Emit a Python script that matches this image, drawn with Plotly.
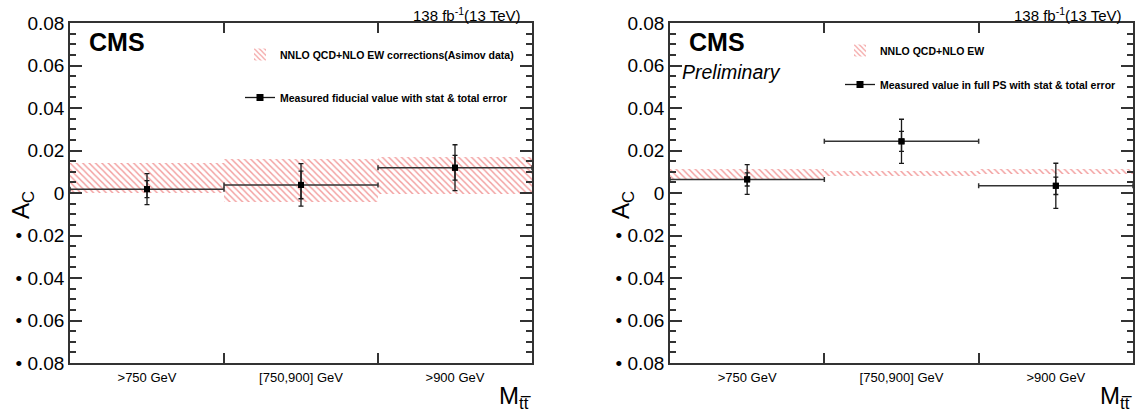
import plotly.graph_objects as go

# ---------------- data ----------------
bin_labels = [">750 GeV", "[750,900] GeV", ">900 GeV"]
bin_centers = [0.5, 1.5, 2.5]
bin_halfwidth = [0.5, 0.5, 0.5]

# left panel (fiducial)
left_band_lo = [0.0, -0.0040, -0.0004]
left_band_hi = [0.0143, 0.0160, 0.0169]
left_meas = [0.0018, 0.0038, 0.0119]
left_tot_err = [0.0073, 0.0100, 0.0108]
left_stat_err = [0.0040, 0.0065, 0.0058]

# right panel (full phase space)
right_band_lo = [0.0064, 0.0081, 0.0091]
right_band_hi = [0.0115, 0.0104, 0.0112]
right_meas = [0.0064, 0.0243, 0.0034]
right_tot_err = [0.0070, 0.0104, 0.0106]
right_stat_err = [0.0031, 0.0047, 0.0041]

y_tickvals = [-0.08, -0.06, -0.04, -0.02, 0, 0.02, 0.04, 0.06, 0.08]
y_ticktext = ["\u2022 0.08", "\u2022 0.06", "\u2022 0.04", "\u2022 0.02", "0", "0.02", "0.04", "0.06", "0.08"]

left_band_name = "NNLO QCD+NLO EW corrections(Asimov data)"
left_meas_name = "Measured fiducial value with stat & total error"
right_band_name = "NNLO QCD+NLO EW"
right_meas_name = "Measured value in full PS with stat & total error"

W, H = 1135, 416
FONT = "Liberation Sans"
PINK = "#f29b9b"
INK = "#1a1a1a"


def px(x):
    return x / W


def py(y):
    return 1 - y / H


fig = go.Figure()


def add_panel(xa, ya, lo, hi, meas, tot, stat, band_name, meas_name, legend):
    fig.add_trace(go.Bar(
        x=bin_centers, y=[h - l for h, l in zip(hi, lo)], base=lo, width=1,
        xaxis=xa, yaxis=ya, name=band_name, legend=legend,
        marker=dict(color=PINK, line=dict(width=0),
                    pattern=dict(shape="\\", fillmode="replace", size=4.5, solidity=0.32, fgcolor=PINK)),
        legendgroup=legend + "band",
    ))
    fig.add_trace(go.Scatter(
        x=bin_centers, y=meas, mode="markers", xaxis=xa, yaxis=ya, showlegend=False,
        marker=dict(symbol="square", size=6, color="black"),
        error_y=dict(type="data", array=tot, color=INK, thickness=1.3, width=2.5),
        error_x=dict(type="data", array=bin_halfwidth, color="#333", thickness=1.5, width=2.5),
    ))
    fig.add_trace(go.Scatter(
        x=bin_centers, y=meas, mode="markers", xaxis=xa, yaxis=ya, showlegend=False,
        marker=dict(symbol="square", size=6, color="black"),
        error_y=dict(type="data", array=stat, color=INK, thickness=1.3, width=2.5),
    ))
    # legend proxy for the measurement
    fig.add_trace(go.Scatter(
        x=[None], y=[None], mode="lines+markers", xaxis=xa, yaxis=ya, name=meas_name,
        legend=legend, legendgroup=legend + "meas",
        marker=dict(symbol="square", size=7, color="black"), line=dict(color=INK, width=1.3),
    ))


add_panel("x", "y", left_band_lo, left_band_hi, left_meas, left_tot_err, left_stat_err,
          left_band_name, left_meas_name, "legend")
add_panel("x2", "y2", right_band_lo, right_band_hi, right_meas, right_tot_err, right_stat_err,
          right_band_name, right_meas_name, "legend2")

xaxis_common = dict(
    range=[0, 3], tickmode="array", tickvals=bin_centers, ticktext=bin_labels, ticks="",
    showgrid=False, zeroline=False, showline=True, linecolor="#333", linewidth=1.5, mirror="allticks",
    tickfont=dict(family=FONT, size=13, color="black"), automargin=False, ticklabelstandoff=2,
    minor=dict(tickvals=[1, 2], ticks="inside", ticklen=10, tickcolor="#333", tickwidth=1.5),
)
yaxis_common = dict(
    range=[-0.08, 0.08], tickmode="array", tickvals=y_tickvals, ticktext=y_ticktext,
    ticks="inside", ticklen=12, tickcolor="#333", tickwidth=1.5, automargin=False,
    showgrid=False, zeroline=False, showline=True, linecolor="#333", linewidth=1.5, mirror="allticks",
    tickfont=dict(family=FONT, size=19, color="black"),
    minor=dict(dtick=0.005, tick0=0, ticks="inside", ticklen=6, tickcolor="#333", tickwidth=1.5),
    domain=[py(363), py(23)],
)

fig.update_layout(
    width=W, height=H, autosize=False,
    margin=dict(l=0, r=0, t=0, b=0),
    paper_bgcolor="white", plot_bgcolor="white",
    barmode="overlay", bargap=0,
    xaxis=dict(xaxis_common, domain=[px(70), px(532)], anchor="y"),
    yaxis=dict(yaxis_common, anchor="x"),
    xaxis2=dict(xaxis_common, domain=[px(670), px(1133)], anchor="y2"),
    yaxis2=dict(yaxis_common, anchor="x2"),
    legend=dict(x=px(240), y=py(40), xanchor="left", yanchor="top", bgcolor="rgba(0,0,0,0)",
                font=dict(family=FONT, size=10.5, color="black", weight="bold"),
                tracegroupgap=24),
    legend2=dict(x=px(840), y=py(36), xanchor="left", yanchor="top", bgcolor="rgba(0,0,0,0)",
                 font=dict(family=FONT, size=10.5, color="black", weight="bold"),
                 tracegroupgap=15),
    showlegend=True,
)

ann = []
for xl, xr, cms_x in [(70, 532, 87), (670, 1133, 687)]:
    ann.append(dict(text="<b>CMS</b>", x=px(cms_x), y=py(42), xanchor="left", yanchor="middle",
                    font=dict(family=FONT, size=25, color="black")))
    ann.append(dict(text="138 fb<sup>-1</sup>(13 TeV)", x=px(xr - 10), y=py(15), xanchor="right",
                    yanchor="middle", font=dict(family=FONT, size=15, color="black")))
    ann.append(dict(text="A<sub>C</sub>", x=px(xl - 48), y=py(205), xanchor="center", yanchor="middle",
                    textangle=-90, font=dict(family=FONT, size=24, color="black")))
    ann.append(dict(text="M<sub>tt\u0305</sub>", x=px(xr + 1), y=py(397),
                    xanchor="right", yanchor="middle", font=dict(family=FONT, size=24, color="black")))
ann.append(dict(text="<i>Preliminary</i>", x=px(680), y=py(72), xanchor="left", yanchor="middle",
                font=dict(family=FONT, size=19.5, color="black")))
for a in ann:
    a.update(xref="paper", yref="paper", showarrow=False)
fig.update_layout(annotations=ann)

fig.write_html(
    "out.html",
    config={"displayModeBar": False},
    post_script="document.body.style.margin='0px';document.body.style.overflow='hidden';",
)
